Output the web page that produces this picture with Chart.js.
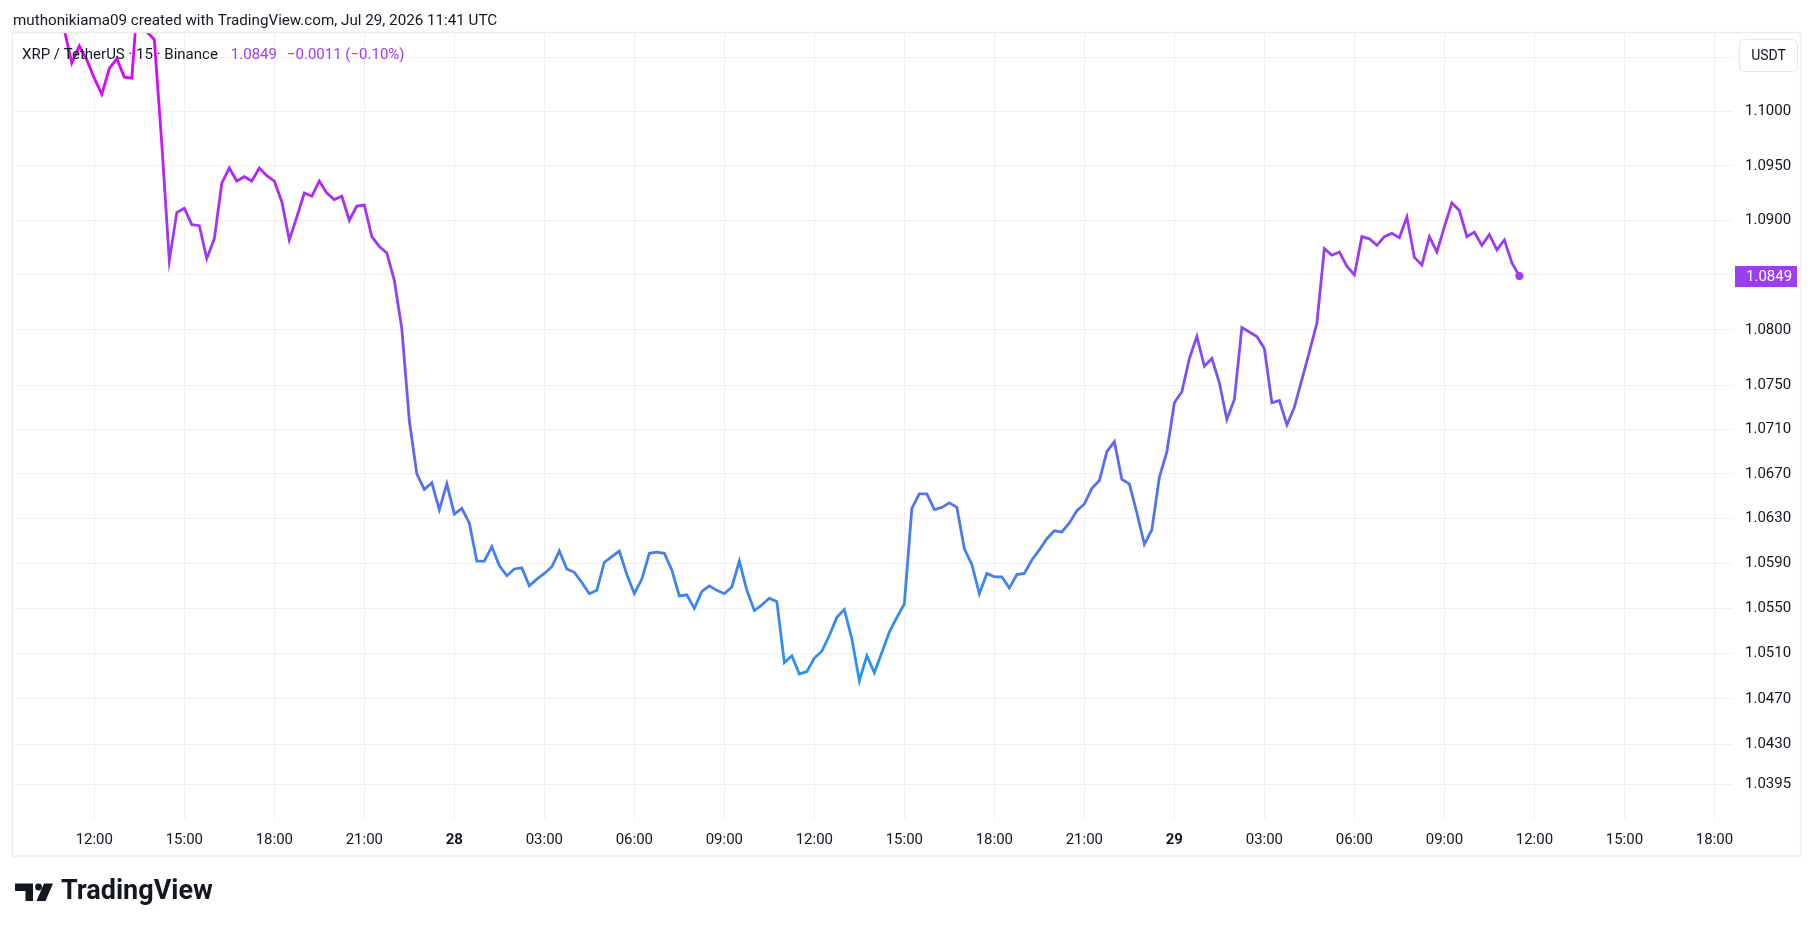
<!DOCTYPE html>
<html>
<head>
<meta charset="utf-8">
<title>XRP / TetherUS · 15 · Binance</title>
<script src="https://cdn.jsdelivr.net/npm/chart.js@4.4.1/dist/chart.umd.min.js"></script>
<style>
  html, body { margin: 0; padding: 0; background: #fff; }
  canvas { display: block; }
</style>
</head>
<body>
<canvas id="chart" width="1814" height="931"></canvas>
<script>
// 15 minute closes, from Jul 27 11:00 UTC to Jul 29 11:30 UTC
const startHour = 11;      // hours counted from Jul 27 00:00
const stepHours = 0.25;
const closes = [
    1.1076, 1.1045, 1.1061, 1.1048, 1.1031, 1.1016, 1.1040, 1.1049, 1.1032, 1.1031,
    1.1125, 1.1074, 1.1067, 1.0970, 1.0863, 1.0907, 1.0911, 1.0896, 1.0895, 1.0865,
    1.0883, 1.0934, 1.0948, 1.0936, 1.0940, 1.0936, 1.0948, 1.0941, 1.0936, 1.0917,
    1.0882, 1.0903, 1.0925, 1.0922, 1.0936, 1.0925, 1.0919, 1.0922, 1.0900, 1.0913,
    1.0914, 1.0885, 1.0876, 1.0870, 1.0845, 1.0801, 1.0718, 1.0670, 1.0656, 1.0662,
    1.0638, 1.0661, 1.0634, 1.0639, 1.0626, 1.0592, 1.0592, 1.0605, 1.0588, 1.0579,
    1.0585, 1.0586, 1.0570, 1.0576, 1.0581, 1.0587, 1.0601, 1.0585, 1.0582, 1.0573,
    1.0563, 1.0566, 1.0591, 1.0596, 1.0601, 1.0580, 1.0563, 1.0576, 1.0599, 1.0600,
    1.0599, 1.0584, 1.0561, 1.0562, 1.0550, 1.0565, 1.0570, 1.0566, 1.0563, 1.0569,
    1.0592, 1.0566, 1.0548, 1.0553, 1.0559, 1.0556, 1.0502, 1.0508, 1.0492, 1.0494,
    1.0506, 1.0512, 1.0526, 1.0542, 1.0549, 1.0523, 1.0486, 1.0508, 1.0493, 1.0511,
    1.0529, 1.0542, 1.0554, 1.0639, 1.0652, 1.0652, 1.0638, 1.0640, 1.0644, 1.0640,
    1.0603, 1.0589, 1.0563, 1.0581, 1.0578, 1.0578, 1.0568, 1.0580, 1.0581, 1.0593,
    1.0602, 1.0612, 1.0619, 1.0618, 1.0626, 1.0637, 1.0643, 1.0657, 1.0664, 1.0690,
    1.0699, 1.0665, 1.0661, 1.0635, 1.0607, 1.0620, 1.0667, 1.0690, 1.0734, 1.0744,
    1.0774, 1.0794, 1.0767, 1.0774, 1.0752, 1.0719, 1.0737, 1.0802, 1.0798, 1.0794,
    1.0783, 1.0734, 1.0736, 1.0714, 1.0730, 1.0755, 1.0780, 1.0806, 1.0874, 1.0868,
    1.0871, 1.0858, 1.0850, 1.0885, 1.0883, 1.0877, 1.0885, 1.0888, 1.0884, 1.0903,
    1.0866, 1.0859, 1.0885, 1.0871, 1.0894, 1.0916, 1.0909, 1.0885, 1.0889, 1.0877,
    1.0887, 1.0873, 1.0882, 1.0861, 1.0849
];

const priceTicks = [1.1050, 1.1000, 1.0950, 1.0900, 1.0850, 1.0800, 1.0750, 1.0710,
    1.0670, 1.0630, 1.0590, 1.0550, 1.0510, 1.0470, 1.0430, 1.0395];
const hiddenPriceTicks = [1.1050, 1.0850];   // covered by the USDT button and price tag
const timeTicks = [12, 15, 18, 21, 24, 27, 30, 33, 36, 39, 42, 45, 48, 51, 54, 57, 60, 63, 66];
const dayLabels = { 24: '28', 48: '29' };

const lastPrice = '1.0849';
const lastChange = '\u22120.0011 (\u22120.10%)';
const symbolText = 'XRP / TetherUS \u00b7 15 \u00b7 Binance';
const headerText = 'muthonikiama09 created with TradingView.com, Jul 29, 2026 11:41 UTC';

const FONT = 'Roboto, "Liberation Sans", sans-serif';
const PURPLE = '#9c3cf3';
const TEXT = '#131722';

const points = closes.map((v, i) => ({ x: startHour + i * stepHours, y: v }));

function lineGradient(context) {
    const chart = context.chart;
    const area = chart.chartArea;
    if (!area) return PURPLE;
    const g = chart.ctx.createLinearGradient(0, area.top, 0, area.bottom);
    g.addColorStop(0.00, '#e000ff');
    g.addColorStop(0.09, '#cf10f5');
    g.addColorStop(0.24, '#a235f3');
    g.addColorStop(0.38, '#8a46f2');
    g.addColorStop(0.57, '#5670ee');
    g.addColorStop(0.72, '#3a88ec');
    g.addColorStop(0.84, '#2496ef');
    g.addColorStop(1.00, '#2196f3');
    return g;
}

const decor = {
    id: 'decor',
    beforeDraw(chart) {
        const ctx = chart.ctx;
        ctx.save();
        ctx.fillStyle = '#ffffff';
        ctx.fillRect(0, 0, chart.width, chart.height);
        ctx.restore();
    },
    afterDraw(chart) {
        const ctx = chart.ctx;
        const yScale = chart.scales.y;
        ctx.save();

        // frame
        ctx.strokeStyle = '#ececec';
        ctx.lineWidth = 1.5;
        ctx.strokeRect(12.5, 32.5, 1788, 823.5);

        // header line
        ctx.fillStyle = TEXT;
        ctx.font = '15.2px ' + FONT;
        ctx.textBaseline = 'alphabetic';
        ctx.textAlign = 'left';
        ctx.fillText(headerText, 13, 25);

        // legend
        ctx.font = '15px ' + FONT;
        ctx.textBaseline = 'middle';
        ctx.fillStyle = TEXT;
        ctx.fillText(symbolText, 22, 55);
        let x = 22 + ctx.measureText(symbolText).width + 13;
        ctx.fillStyle = PURPLE;
        ctx.fillText(lastPrice, x, 55);
        x += ctx.measureText(lastPrice).width + 10;
        ctx.fillText(lastChange, x, 55);

        // currency button
        ctx.strokeStyle = '#e6e6e6';
        ctx.lineWidth = 1;
        ctx.beginPath();
        ctx.roundRect(1739.5, 39.5, 58, 32, 5);
        ctx.fillStyle = '#ffffff';
        ctx.fill();
        ctx.stroke();
        ctx.fillStyle = TEXT;
        ctx.font = '14px ' + FONT;
        ctx.textAlign = 'center';
        ctx.fillText('USDT', 1768.5, 56);

        // last price tag
        const py = yScale.getPixelForValue(parseFloat(lastPrice));
        ctx.fillStyle = PURPLE;
        ctx.fillRect(1735, py - 10, 62, 21);
        ctx.fillStyle = '#ffffff';
        ctx.font = '15px ' + FONT;
        ctx.textAlign = 'left';
        ctx.fillText(lastPrice, 1746, py + 1);

        // TradingView logo
        ctx.fillStyle = TEXT;
        ctx.beginPath();
        ctx.moveTo(15, 883.5); ctx.lineTo(33, 883.5); ctx.lineTo(33, 901);
        ctx.lineTo(25.5, 901); ctx.lineTo(25.5, 891); ctx.lineTo(15, 891);
        ctx.closePath();
        ctx.fill();
        ctx.beginPath();
        ctx.arc(38.5, 887, 3.4, 0, Math.PI * 2);
        ctx.fill();
        ctx.beginPath();
        ctx.moveTo(44, 883.5); ctx.lineTo(53, 883.5); ctx.lineTo(45.5, 901);
        ctx.lineTo(36.5, 901);
        ctx.closePath();
        ctx.fill();
        ctx.font = 'bold 27px ' + FONT;
        ctx.textBaseline = 'alphabetic';
        ctx.fillText('TradingView', 61, 899);

        ctx.restore();
    }
};

new Chart(document.getElementById('chart'), {
    type: 'line',
    data: {
        datasets: [{
            data: points,
            borderColor: lineGradient,
            borderWidth: 2.8,
            tension: 0,
            clip: 0,
            pointRadius: points.map((p, i) => i === points.length - 1 ? 4 : 0),
            pointBackgroundColor: PURPLE,
            pointBorderWidth: 0,
            pointHoverRadius: 0
        }]
    },
    options: {
        responsive: false,
        animation: false,
        devicePixelRatio: 1,
        layout: { padding: { left: 13, top: 33, right: 14, bottom: 75 } },
        plugins: { legend: { display: false }, tooltip: { enabled: false } },
        events: [],
        scales: {
            x: {
                type: 'linear',
                bounds: 'data',
                min: 9.29,
                max: 66.62,
                afterBuildTicks: scale => { scale.ticks = timeTicks.map(v => ({ value: v })); },
                afterFit: scale => { scale.height = 36; },
                grid: { color: '#f0f0f0', drawTicks: false },
                border: { display: false },
                ticks: {
                    autoSkip: false,
                    maxRotation: 0,
                    padding: 11,
                    color: TEXT,
                    font: ctx => ({
                        family: FONT,
                        size: 15,
                        weight: ctx.tick && dayLabels[ctx.tick.value] ? 'bold' : 'normal'
                    }),
                    callback: value => {
                        if (dayLabels[value]) return dayLabels[value];
                        const h = value % 24;
                        return String(h).padStart(2, '0') + ':00';
                    }
                }
            },
            y: {
                type: 'logarithmic',
                position: 'right',
                bounds: 'data',
                min: 1.03639,
                max: 1.1073,
                afterBuildTicks: scale => { scale.ticks = priceTicks.map(v => ({ value: v })); },
                afterFit: scale => { scale.width = 67; },
                grid: { color: '#f0f0f0', drawTicks: false },
                border: { display: false },
                ticks: {
                    padding: 12,
                    color: TEXT,
                    font: { family: FONT, size: 15 },
                    callback: value => hiddenPriceTicks.some(t => Math.abs(t - value) < 1e-6)
                        ? '' : value.toFixed(4)
                }
            }
        }
    },
    plugins: [decor]
});
</script>
</body>
</html>
